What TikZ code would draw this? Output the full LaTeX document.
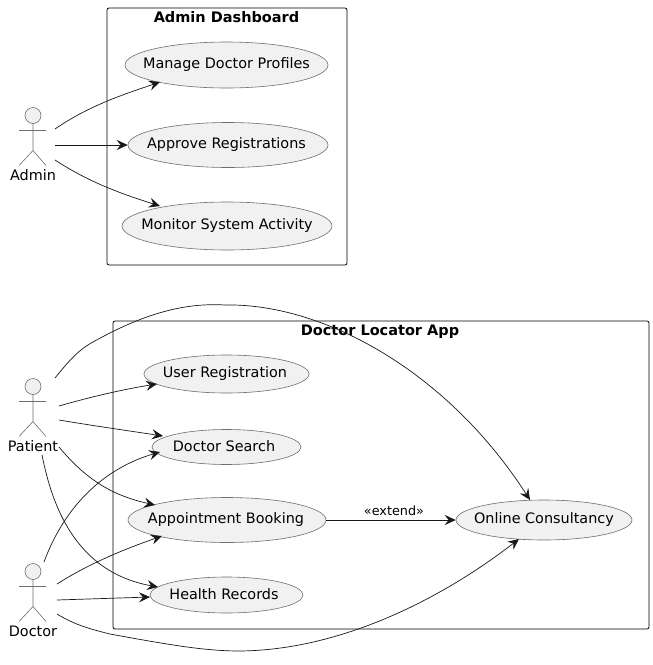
\documentclass[tikz,border=0pt]{standalone}
\usepackage{fontspec}
\setmainfont{DejaVu Sans}
\usetikzlibrary{shapes.geometric,arrows.meta}
\definecolor{umlfill}{HTML}{F1F1F1}
\definecolor{umlline}{HTML}{181818}
\definecolor{umlthin}{HTML}{6E6E6E}
\newcommand{\uctext}[2][0pt]{\makebox[0pt]{\hspace*{#1}\raisebox{1.5pt}{#2}}}
\tikzset{
  x=1pt,y=-1pt,
  sysbox/.style={draw=black,line width=0.8pt,rounded corners=2pt},
  systitle/.style={font=\bfseries\fontsize{14.5}{16}\selectfont,text=black,inner sep=0pt},
  usecase/.style={ellipse,draw=umlthin,line width=0.6pt,fill=umlfill,inner sep=0pt,
    font=\fontsize{14.4}{16}\selectfont,text=black},
  actorname/.style={font=\fontsize{14.4}{16}\selectfont,text=black,inner sep=0pt},
  actorline/.style={draw=umlthin,line width=0.6pt},
  assoc/.style={draw=umlline,line width=0.7pt,-{Stealth[length=11pt,width=10pt,inset=4pt]}},
  edgelabel/.style={font=\fontsize{12.8}{14}\selectfont,text=black,inner sep=0pt}
}
\newcommand{\actorfig}[1]{%
  \begin{scope}[yshift=-#1pt]
    \draw[actorline,fill=umlfill] (33,0) circle[radius=8];
    \draw[actorline] (33,8) -- (33,35) (19,15) -- (46,15) (19,50) -- (33,35) -- (46,50);
  \end{scope}}
\begin{document}
\begin{tikzpicture}
\useasboundingbox (0,0) rectangle (653,665);
% systems
\node[sysbox,minimum width=240pt,minimum height=257pt,inner sep=0pt] (adminbox) at (227,136.5) {};
\node[systitle] (admintitle) at (226.5,17) {Admin Dashboard};
\node[sysbox,minimum width=536pt,minimum height=308pt,inner sep=0pt] (appbox) at (381,475) {};
\node[systitle] (apptitle) at (380,332) {Doctor Locator App};
% actors
\actorfig{115.5}
\node[actorname] (admin) at (33,175) {Admin};
\actorfig{386.5}
\node[actorname] (patient) at (33,446) {Patient};
\actorfig{571.5}
\node[actorname] (doctor) at (33,631) {Doctor};
% use cases
\node[usecase,minimum width=203pt,minimum height=46pt] (mdp) at (226.5,65) {\uctext{Manage Doctor Profiles}};
\node[usecase,minimum width=200pt,minimum height=45pt] (ar) at (228,145) {\uctext[-3pt]{Approve Registrations}};
\node[usecase,minimum width=210pt,minimum height=48pt] (msa) at (227,226) {\uctext{Monitor System Activity}};
\node[usecase,minimum width=165pt,minimum height=38pt] (ur) at (226.5,374) {\uctext[-3pt]{User Registration}};
\node[usecase,minimum width=149pt,minimum height=35pt] (ds) at (226.5,447) {\uctext[-5pt]{Doctor Search}};
\node[usecase,minimum width=198pt,minimum height=45pt] (ab) at (227,520) {\uctext[-2pt]{Appointment Booking}};
\node[usecase,minimum width=153pt,minimum height=36pt] (hr) at (226.5,595) {\uctext[-5pt]{Health Records}};
\node[usecase,minimum width=176pt,minimum height=40pt] (oc) at (544,520) {\uctext{Online Consultancy}};
% connector starts
\coordinate (a1) at (55,129);
\coordinate (a2) at (55,145);
\coordinate (a3) at (55,160);
\coordinate (p0) at (55,378);
\coordinate (p1) at (59,406);
\coordinate (p2) at (59,420);
\coordinate (p3) at (59,447);
\coordinate (p4) at (42,455);
\coordinate (d1) at (44,562);
\coordinate (d2) at (57,584);
\coordinate (d3) at (57,600);
\coordinate (d4) at (57,614);
% connectors
\draw[assoc] (a1) .. controls (90,105) and (125,94) .. ([shift={(-66.5,17)}]mdp.center);
\draw[assoc] (a2) -- (ar.west);
\draw[assoc] (a3) .. controls (90,183) and (125,195) .. ([shift={(-67,-20)}]msa.center);
\draw[assoc] (p0) .. controls (68,362) and (78,350) .. (93,342)
   .. controls (150,310) and (190,303) .. (225,305)
   .. controls (320,303) and (445,368) .. ([shift={(-14,-20)}]oc.center);
\draw[assoc] (p1) .. controls (90,397) and (125,389) .. ([shift={(-69.5,10)}]ur.center);
\draw[assoc] (p2) .. controls (95,426) and (130,431) .. ([shift={(-63.5,-11)}]ds.center);
\draw[assoc] (p3) .. controls (85,478) and (110,495) .. ([shift={(-72,-15)}]ab.center);
\draw[assoc] (p4) .. controls (52,505) and (75,572) .. ([shift={(-68.5,-8)}]hr.center);
\draw[assoc] (d1) .. controls (65,505) and (105,468) .. ([shift={(-66.5,5)}]ds.center);
\draw[assoc] (d2) .. controls (90,563) and (125,549) .. ([shift={(-65,16)}]ab.center);
\draw[assoc] (d3) -- ([shift={(-76.5,2)}]hr.center);
\draw[assoc] (d4) .. controls (75,625) and (90,629) .. (110,634)
   .. controls (170,645) and (205,651) .. (240,651)
   .. controls (340,650) and (440,600) .. ([shift={(-25,19)}]oc.center);
\draw[assoc] (ab.east) -- (oc.west) node[edgelabel,midway,yshift=9pt,xshift=3pt] (extlabel) {«extend»};
\end{tikzpicture}
\end{document}
